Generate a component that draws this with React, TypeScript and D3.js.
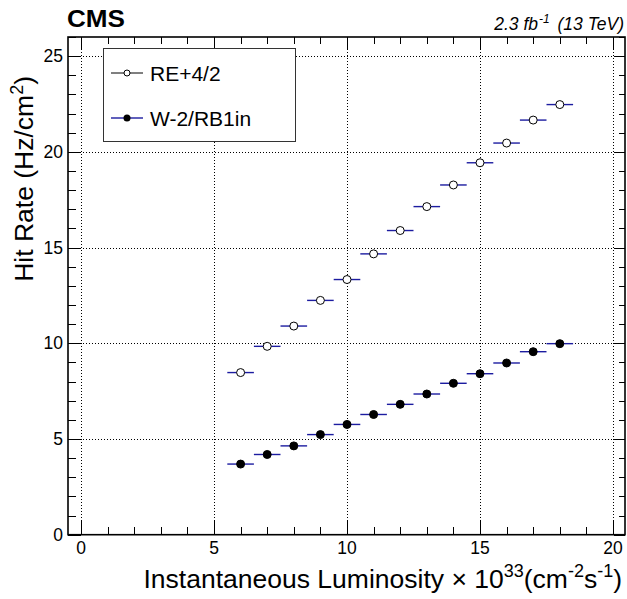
import React from "react";
import * as d3 from "d3";

const lumi = [6, 7, 8, 9, 10, 11, 12, 13, 14, 15, 16, 17, 18];
const rateRE42 = [8.47, 9.84, 10.9, 12.24, 13.33, 14.67, 15.89, 17.14, 18.27, 19.43, 20.46, 21.66, 22.47];
const rateW2RB1in = [3.69, 4.19, 4.64, 5.23, 5.76, 6.28, 6.81, 7.35, 7.91, 8.41, 8.97, 9.56, 9.98];
const xErr = 0.5;
const seriesNames = ["RE+4/2", "W-2/RB1in"];
const xMajorTicks = [0, 5, 10, 15, 20];
const yMajorTicks = [0, 5, 10, 15, 20, 25];

const W = 627, H = 599;
const L = 68, R = 625, T = 37, B = 534.7;
const FONT = "'Liberation Sans', Arial, Helvetica, sans-serif";
const ERR_COLOR = "#1c1ca0";

export default function App() {
  const x = d3.scaleLinear().domain([0, 20]).range([81, 613]);
  const xDom = [x.invert(L), x.invert(R)];
  const y = d3.scaleLinear().domain([0, 26]).range([B, T]);
  const px = (v: number) => Math.round(x(v)) + 0.5;
  const py = (v: number) => Math.round(y(v)) + 0.5;

  const xMinor = d3.range(Math.ceil(xDom[0]), Math.floor(xDom[1]) + 1).filter((v) => v % 5 !== 0);
  const yMinor = d3.range(0, 27).filter((v) => v % 5 !== 0);

  const series = [
    { name: seriesNames[0], values: rateRE42, open: true },
    { name: seriesNames[1], values: rateW2RB1in, open: false },
  ];

  return (
    <svg width={W} height={H} style={{ display: "block", position: "absolute", left: 0, top: 0 }} fontFamily={FONT}>
      <rect x={0} y={0} width={W} height={H} fill="white" />
      {/* grid */}
      <g stroke="#000" strokeWidth={1} strokeDasharray="1,2" shapeRendering="crispEdges">
        {xMajorTicks.map((v) => (
          <line key={"gx" + v} x1={px(v)} x2={px(v)} y1={T} y2={B} />
        ))}
        {yMajorTicks.filter((v) => v > 0).map((v) => (
          <line key={"gy" + v} x1={L} x2={R} y1={py(v)} y2={py(v)} />
        ))}
      </g>
      {/* ticks */}
      <g stroke="#000" strokeWidth={1} shapeRendering="crispEdges">
        {xMajorTicks.map((v) => (
          <g key={"tx" + v}>
            <line x1={px(v)} x2={px(v)} y1={B} y2={B - 15} />
            <line x1={px(v)} x2={px(v)} y1={T} y2={T + 12} />
          </g>
        ))}
        {xMinor.map((v) => (
          <g key={"tmx" + v}>
            <line x1={px(v)} x2={px(v)} y1={B} y2={B - 8} />
            <line x1={px(v)} x2={px(v)} y1={T} y2={T + 7} />
          </g>
        ))}
        {yMajorTicks.map((v) => (
          <g key={"ty" + v}>
            <line x1={L} x2={L + 13} y1={py(v)} y2={py(v)} />
            <line x1={R} x2={R - 11} y1={py(v)} y2={py(v)} />
          </g>
        ))}
        {yMinor.map((v) => (
          <g key={"tmy" + v}>
            <line x1={L} x2={L + 8} y1={py(v)} y2={py(v)} />
            <line x1={R} x2={R - 6} y1={py(v)} y2={py(v)} />
          </g>
        ))}
      </g>
      {/* frame */}
      <rect x={L} y={T} width={R - L} height={B - T} fill="none" stroke="#000" strokeWidth={1.6} />
      {/* tick labels */}
      <g fontSize={17.5} fill="#000">
        {xMajorTicks.map((v) => (
          <text key={"lx" + v} x={x(v)} y={554} textAnchor="middle">{v}</text>
        ))}
        {yMajorTicks.map((v) => (
          <text key={"ly" + v} x={63} y={y(v) + 6} textAnchor="end">{v}</text>
        ))}
      </g>
      {/* data */}
      {series.map((s) => (
        <g key={s.name}>
          {lumi.map((lx, i) => (
            <line key={"e" + i} x1={x(lx - xErr)} x2={x(lx + xErr)} y1={y(s.values[i])} y2={y(s.values[i])}
              stroke={ERR_COLOR} strokeWidth={1.4} />
          ))}
          {lumi.map((lx, i) => (
            <circle key={"c" + i} cx={x(lx)} cy={y(s.values[i])} r={4}
              fill={s.open ? "white" : "black"} stroke="black" strokeWidth={1} />
          ))}
        </g>
      ))}
      {/* legend */}
      <rect x={103.5} y={48.5} width={192} height={93} fill="white" stroke="#333" strokeWidth={1} />
      <g>
        <line x1={111} x2={143} y1={73} y2={73} stroke="#000" strokeWidth={1} />
        <circle cx={127} cy={73} r={3} fill="white" stroke="black" strokeWidth={1} />
        <text x={150} y={80.5} fontSize={21}>{seriesNames[0]}</text>
        <line x1={111} x2={143} y1={118} y2={118} stroke={ERR_COLOR} strokeWidth={1.4} />
        <circle cx={127} cy={118} r={3.5} fill="black" />
        <text x={150} y={125.5} fontSize={21}>{seriesNames[1]}</text>
      </g>
      {/* titles */}
      <text x={67} y={27} fontSize={23} fontWeight="bold" textLength={58} lengthAdjust="spacingAndGlyphs">CMS</text>
      <text x={624} y={29.5} fontSize={17.5} fontStyle="italic" textAnchor="end">
        2.3 fb<tspan dx={1} dy={-7} fontSize={12}>-1</tspan><tspan dx={3} dy={7}> (13 TeV)</tspan>
      </text>
      <text transform="translate(33,76) rotate(-90)" fontSize={26.5} textAnchor="end">
        Hit Rate (Hz/cm<tspan dy={-10} fontSize={18}>2</tspan><tspan dy={10}>)</tspan>
      </text>
      <text x={622} y={588} fontSize={26.5} textAnchor="end">
        Instantaneous Luminosity × 10<tspan dy={-11} fontSize={18}>33</tspan>
        <tspan dy={11}>(cm</tspan><tspan dy={-11} fontSize={18}>-2</tspan>
        <tspan dy={11}>s</tspan><tspan dy={-11} fontSize={18}>-1</tspan><tspan dy={11}>)</tspan>
      </text>
    </svg>
  );
}
